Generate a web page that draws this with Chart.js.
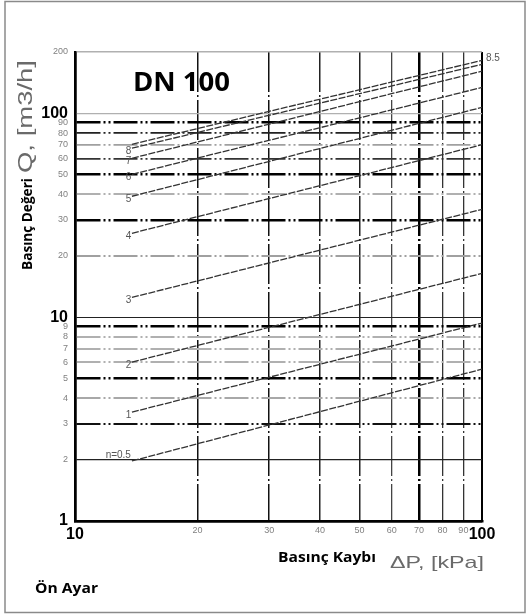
<!DOCTYPE html>
<html>
<head>
<meta charset="utf-8">
<script src="https://cdn.jsdelivr.net/npm/chart.js@4/dist/chart.umd.min.js"></script>
<style>
  html, body { margin: 0; padding: 0; background: #fff; }
  #wrap { width: 526px; height: 616px; }
</style>
</head>
<body>
<div id="wrap"><canvas id="c" width="526" height="616"></canvas></div>
<script>
// Presetting curves of a DN 100 balancing valve: flow Q [m3/h] vs pressure loss ΔP [kPa]
const settings     = ['n=0.5', '1', '2', '3', '4', '5', '6', '7', '8', '8.5'];
const pressureKpa  = [13.8, 100];                     // first and last ΔP of every curve
const flowAtStart  = [1.97, 3.42, 6.02, 12.5, 25.8, 39.2, 50.2, 60.2, 67.5, 70.5];
const flowAtEnd    = [5.56, 9.36, 16.4, 33.8, 70.2, 107, 134, 161, 174, 182];
const yTickValues  = [1, 2, 3, 4, 5, 6, 7, 8, 9, 10, 20, 30, 40, 50, 60, 70, 80, 90, 100, 200];
const xTickValues  = [10, 20, 30, 40, 50, 60, 70, 80, 90, 100];
const boldTicks    = [1, 10, 100];

const SANS = '"Liberation Sans", Arial, "DejaVu Sans", sans-serif';

// horizontal grid line looks: [colour, width, dashed]
const hGrid = {
  1: ['#000', 2.5, false], 2: ['#222', 1.2, false], 3: ['#111', 2, true], 4: ['#a8a8a8', 2, true],
  5: ['#000', 2.6, true], 6: ['#b0b0b0', 2, true], 7: ['#b0b0b0', 2, true], 8: ['#b0b0b0', 2, true],
  9: ['#000', 2.6, true], 10: ['#222', 1, false], 20: ['#a0a0a0', 2, true], 30: ['#000', 2.5, true],
  40: ['#b0b0b0', 2, true], 50: ['#000', 2.6, true], 60: ['#333', 1.8, true], 70: ['#a0a0a0', 1.8, true],
  80: ['#222', 1.8, true], 90: ['#000', 2.6, true], 100: ['#b0b0b0', 1.3, false], 200: ['#b0b0b0', 1.5, false]
};
const vGrid = {
  10: ['#000', 2.5, false], 20: ['#111', 1.5, true], 30: ['#111', 1.5, true], 40: ['#222', 1.5, true],
  50: ['#222', 1.5, true], 60: ['#444', 1.3, true], 70: ['#000', 2.5, true], 80: ['#333', 1.3, true],
  90: ['#333', 1.3, true], 100: ['#000', 2, false]
};

const datasets = settings.map((name, i) => ({
  label: name,
  data: [{ x: pressureKpa[0], y: flowAtStart[i] }, { x: pressureKpa[1], y: flowAtEnd[i] }],
  borderColor: '#333',
  borderWidth: 1.3,
  borderDash: [7, 1.5],
  pointRadius: 0,
  fill: false
}));

function fitText(ctx, text, x, y, width) {
  const w = ctx.measureText(text).width;
  ctx.save();
  ctx.translate(x, y);
  ctx.scale(width / w, 1);
  ctx.fillText(text, 0, 0);
  ctx.restore();
}

const decorations = {
  id: 'decorations',
  beforeDraw(chart) {
    const ctx = chart.ctx;
    ctx.save();
    ctx.fillStyle = '#fff';
    ctx.fillRect(0, 0, chart.width, chart.height);
    ctx.strokeStyle = '#8a8a8a';
    ctx.lineWidth = 1.5;
    ctx.strokeRect(5, 1.5, 520, 611);
    ctx.restore();
  },
  afterDraw(chart) {
    const ctx = chart.ctx;
    ctx.save();
    ctx.textAlign = 'left';
    ctx.textBaseline = 'alphabetic';

    // title inside the plot
    ctx.fillStyle = '#000';
    ctx.font = 'bold 27px "Open Sans"';
    fitText(ctx, 'DN 100', 133, 91, 97);

    // x axis title
    ctx.font = 'bold 15px "Open Sans"';
    fitText(ctx, 'Basınç Kaybı', 278, 562, 98);
    ctx.fillStyle = '#6a6a6a';
    ctx.font = '17px ' + SANS;
    fitText(ctx, 'ΔP, [kPa]', 390, 568, 94);

    // footer
    ctx.fillStyle = '#000';
    ctx.font = 'bold 15px "Open Sans"';
    fitText(ctx, 'Ön Ayar', 35, 593, 63);

    // y axis title (rotated)
    ctx.save();
    ctx.translate(32, 270);
    ctx.rotate(-Math.PI / 2);
    ctx.fillStyle = '#000';
    ctx.font = 'bold 15px "Open Sans"';
    fitText(ctx, 'Basınç Değeri', 0, 0, 92);
    ctx.fillStyle = '#6a6a6a';
    ctx.font = '20px ' + SANS;
    fitText(ctx, 'Q, [m3/h]', 97, 0, 113);
    ctx.restore();

    // presetting labels at the curve ends
    ctx.fillStyle = '#555';
    ctx.font = '10px ' + SANS;
    chart.data.datasets.forEach((ds, i) => {
      const pts = chart.getDatasetMeta(i).data;
      if (i === chart.data.datasets.length - 1) {
        ctx.textAlign = 'left';
        ctx.fillText(ds.label, pts[1].x + 4, pts[1].y + 1);
      } else if (i === 0) {
        ctx.textAlign = 'right';
        ctx.fillText(ds.label, pts[0].x - 1, pts[0].y - 3);
      } else {
        ctx.textAlign = 'right';
        ctx.fillText(ds.label, pts[0].x - 0.5, pts[0].y + 6);
      }
    });
    ctx.restore();
  }
};

function gridLook(table, ctx) {
  const v = ctx.tick ? ctx.tick.value : null;
  return table[v] || ['#999', 1, false];
}

const tickFont = c => boldTicks.includes(c.tick.value)
  ? { family: SANS, size: 16, weight: 'bold' }
  : { family: SANS, size: 9 };

new Chart(document.getElementById('c'), {
  type: 'line',
  data: { datasets },
  options: {
    responsive: false,
    animation: false,
    events: [],
    layout: { padding: { top: 52, right: 44, left: 0, bottom: 0 } },
    plugins: { legend: { display: false }, tooltip: { enabled: false } },
    scales: {
      x: {
        type: 'logarithmic',
        min: 10, max: 100,
        afterBuildTicks(s) { s.ticks = xTickValues.map(v => ({ value: v })); },
        afterFit(s) { s.height = 95; },
        grid: {
          drawTicks: false,
          color: c => gridLook(vGrid, c)[0],
          lineWidth: c => gridLook(vGrid, c)[1]
        },
        border: {
          color: '#000', width: 2.5,
          dash: c => (c.tick && gridLook(vGrid, c)[2]) ? [40, 3, 2, 3] : []
        },
        ticks: {
          autoSkip: false, maxRotation: 0, minRotation: 0, padding: 4,
          callback: v => String(v),
          color: c => boldTicks.includes(c.tick.value) ? '#000' : '#808080',
          font: tickFont
        }
      },
      y: {
        type: 'logarithmic',
        min: 1, max: 200,
        afterBuildTicks(s) { s.ticks = yTickValues.map(v => ({ value: v })); },
        afterFit(s) { s.width = 75; },
        grid: {
          drawTicks: false,
          color: c => gridLook(hGrid, c)[0],
          lineWidth: c => gridLook(hGrid, c)[1]
        },
        border: {
          color: '#000', width: 2.5,
          dash: c => (c.tick && gridLook(hGrid, c)[2]) ? [24, 3, 2, 3, 2, 3] : []
        },
        ticks: {
          autoSkip: false, padding: 7,
          callback: v => String(v),
          color: c => boldTicks.includes(c.tick.value) ? '#000' : '#808080',
          font: tickFont
        }
      }
    }
  },
  plugins: [decorations]
});
</script>
</body>
</html>
